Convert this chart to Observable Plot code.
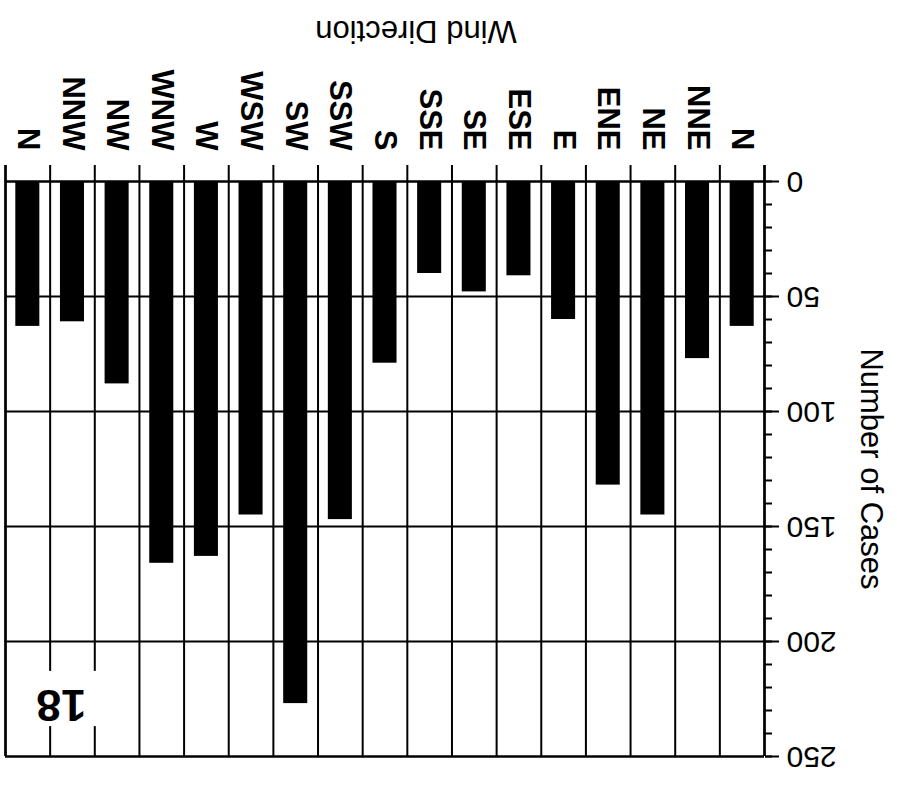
<!DOCTYPE html>
<html><head><meta charset="utf-8">
<script src="https://cdn.jsdelivr.net/npm/d3@7"></script>
<script src="https://cdn.jsdelivr.net/npm/@observablehq/plot@0.6"></script>
<style>body{margin:0;background:#fff} svg{display:block}</style>
</head><body><div id="chart"></div>
<script>
const directions = ["N","NNW","NW","WNW","W","WSW","SW","SSW","S","SSE","SE","ESE","E","ENE","NE","NNE","N"];
const cases = [63,61,88,166,163,145,227,147,79,40,48,41,60,132,145,77,63];
const valueTicks = [0,50,100,150,200,250];
const minorTicks = d3.range(0, 251, 10);
const gridValues = [50,100,150,200];
const xTitle = "Wind Direction";
const yTitle = "Number of Cases";
const figureLabel = "18";
const figureLabelPos = {x: 1, y: 227.5};

const data = directions.map((d, i) => ({i, dir: d, n: cases[i]}));
const boundaries = d3.range(0, directions.length + 1);
const nCat = directions.length;
const font = "'Liberation Sans', Arial, Helvetica, sans-serif";

const chart = Plot.plot({
  width: 897, height: 786,
  marginTop: 181, marginBottom: 30, marginLeft: 5, marginRight: 133,
  x: {domain: [0, nCat], axis: null},
  y: {domain: [0, 250], reverse: true, axis: null},
  style: {fontFamily: font, background: "#fff", color: "black"},
  marks: [
    // bars
    Plot.rect(data, {x1: "i", x2: d => d.i + 1, y1: 0, y2: "n", fill: "black", insetLeft: 10.3, insetRight: 10.3}),
    // horizontal grid
    Plot.ruleY(gridValues, {x1: 0, x2: nCat, stroke: "black", strokeWidth: 2}),
    // vertical grid & top ticks
    Plot.ruleX(boundaries, {y1: -7, y2: 250, stroke: "black", strokeWidth: 2}),
    // frame top/bottom
    Plot.ruleY([0, 250], {x1: 0, x2: nCat, stroke: "black", strokeWidth: 2.5}),
    Plot.ruleX([0, nCat], {y1: -7, y2: 250, stroke: "black", strokeWidth: 2.5}),
    // right axis ticks
    Plot.axisY({anchor: "right", ticks: minorTicks, tickSize: 7, tickFormat: () => "", strokeWidth: 2, label: null}),
    Plot.axisY({anchor: "right", ticks: valueTicks, tickSize: 14, tickFormat: () => "", strokeWidth: 2, label: null}),
    // white box behind figure label
    Plot.rect([figureLabel], {x1: figureLabelPos.x - 0.45, x2: figureLabelPos.x + 1.05, y1: figureLabelPos.y - 14.5, y2: figureLabelPos.y + 9.5, fill: "white"}),
    Plot.text([figureLabel], {x: figureLabelPos.x, y: figureLabelPos.y, dx: 11, text: d => d, rotate: 180, fontSize: 45, fontWeight: "bold", lineAnchor: "middle", fill: "black"}),
    // category labels
    Plot.text(data, {x: d => d.i + 0.5, text: "dir", frameAnchor: "top", dy: -31, rotate: 90, textAnchor: "end", lineAnchor: "middle", fontSize: 31, fontWeight: "bold", fill: "black"}),
    // value tick labels
    Plot.text(valueTicks, {y: d => d, text: d => String(d), frameAnchor: "right", dx: 22, rotate: 180, textAnchor: "end", lineAnchor: "middle", fontSize: 30, fill: "black"}),
    // titles
    Plot.text([yTitle], {text: d => d, frameAnchor: "right", dx: 106, rotate: 90, textAnchor: "middle", lineAnchor: "middle", fontSize: 31, fill: "black"}),
    Plot.text([xTitle], {text: d => d, frameAnchor: "top", dx: 31, dy: -151, rotate: 180, textAnchor: "middle", lineAnchor: "middle", fontSize: 31, fill: "black"})
  ]
});
document.getElementById("chart").append(chart);
</script>
</body></html>
